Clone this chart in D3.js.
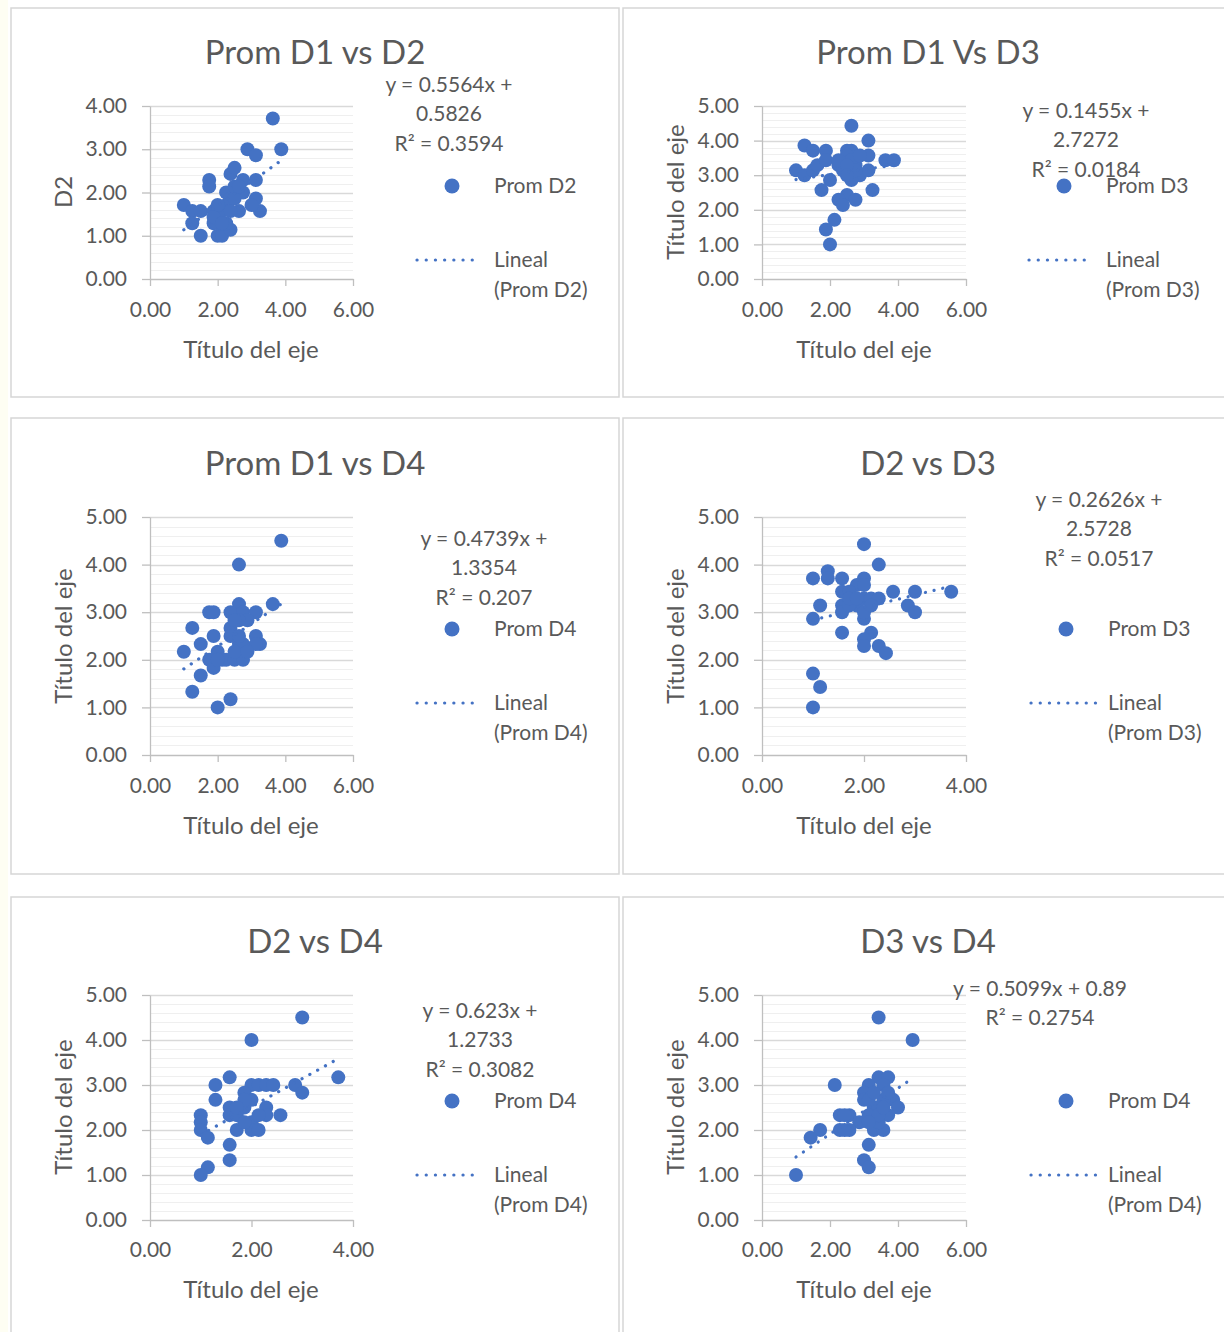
<!DOCTYPE html>
<html>
<head>
<meta charset="utf-8">
<script src="https://cdn.jsdelivr.net/npm/d3@7"></script>
<style>
  body { margin: 0; background: #ffffff; }
  svg { display: block; }
  text { font-family: Lato, "Open Sans", sans-serif; fill: #595959; }
</style>
</head>
<body>
<svg id="chart" width="1224" height="1332"></svg>
<script>
// ---- Data -------------------------------------------------------------
const chartTitles = ["Prom D1 vs D2", "Prom D1 Vs D3", "Prom D1 vs D4", "D2 vs D3", "D2 vs D4", "D3 vs D4"];
const yAxisTitles = ["D2", "Título del eje", "Título del eje", "Título del eje", "Título del eje", "Título del eje"];
const xAxisTitle = "Título del eje";
const seriesNames = ["Prom D2", "Prom D3", "Prom D4", "Prom D3", "Prom D4", "Prom D4"];
const trendNames = ["Lineal", "Lineal", "Lineal", "Lineal", "Lineal", "Lineal"];
const trendSlopes = [0.5564, 0.1455, 0.4739, 0.2626, 0.623, 0.5099];
const trendIntercepts = [0.5826, 2.7272, 1.3354, 2.5728, 1.2733, 0.89];
const rSquared = [0.3594, 0.0184, 0.207, 0.0517, 0.3082, 0.2754];
const xAxisMax = [6, 6, 6, 4, 4, 6];
const yAxisMax = [4, 5, 5, 5, 5, 5];
const xTickStep = 2;
const yTickStep = 1;
const yMinorStep = 0.2;

// Prom D1 (x) vs Prom D2 (y)
const d1VsD2 = [[1.00,1.71],[1.25,1.57],[1.25,1.29],[1.50,1.57],[1.50,1.00],[1.75,2.29],[1.75,2.14],[1.88,1.57],[1.88,1.29],[2.00,1.00],[2.13,1.00],[2.00,1.43],[2.25,1.71],[2.25,2.00],[2.38,1.86],[2.38,1.14],[2.38,2.43],[2.50,2.57],[2.63,2.00],[2.63,1.57],[2.75,2.29],[2.75,2.00],[2.88,3.00],[3.13,2.86],[3.13,2.29],[3.13,1.86],[3.25,1.57],[3.63,3.71],[3.88,3.00],[2.13,1.57],[2.50,1.86],[2.50,2.14],[2.38,1.57],[2.00,1.71],[2.63,2.14],[3.00,1.71],[2.25,1.29],[1.88,1.43],[2.13,1.29]];
// Prom D1 (x) vs Prom D3 (y)
const d1VsD3 = [[2.63,4.43],[3.13,4.00],[1.25,3.86],[1.50,3.71],[1.88,3.71],[2.50,3.71],[2.63,3.71],[3.13,3.57],[3.63,3.43],[3.88,3.43],[1.00,3.14],[1.25,3.00],[1.50,3.14],[1.63,3.29],[1.88,3.43],[2.00,2.86],[1.75,2.57],[2.25,3.29],[2.38,3.43],[2.63,3.14],[2.75,3.29],[2.88,3.00],[3.13,3.14],[2.63,2.86],[3.25,2.57],[2.50,2.43],[2.25,2.29],[2.38,2.14],[2.75,2.29],[2.13,1.71],[1.88,1.43],[2.00,1.00],[2.38,3.14],[2.50,3.57],[2.63,3.43],[2.75,3.14],[2.25,3.43],[2.50,3.29],[2.88,3.57],[2.50,3.00]];
// Prom D1 (x) vs Prom D4 (y)
const d1VsD4 = [[3.88,4.50],[2.63,4.00],[3.63,3.17],[2.63,3.17],[1.75,3.00],[1.88,3.00],[2.38,3.00],[2.75,3.00],[3.13,3.00],[2.88,2.83],[1.25,2.67],[2.38,2.67],[1.88,2.50],[3.13,2.50],[3.25,2.33],[3.13,2.33],[1.50,2.33],[2.63,2.33],[2.75,2.33],[1.00,2.17],[2.00,2.17],[1.75,2.00],[2.13,2.00],[2.25,2.00],[2.50,2.00],[2.75,2.00],[1.88,1.83],[1.50,1.67],[1.25,1.33],[2.38,1.17],[2.00,1.00],[2.50,2.17],[2.38,2.50],[2.63,2.83],[2.50,2.83],[2.63,2.50],[2.00,2.00],[2.88,2.17]];
// Prom D2 (x) vs Prom D3 (y)
const d2VsD3 = [[2.00,4.43],[2.29,4.00],[1.00,3.71],[1.29,3.86],[1.29,3.71],[1.57,3.71],[2.00,3.71],[1.86,3.57],[2.00,3.57],[1.57,3.43],[1.71,3.43],[2.00,3.29],[2.14,3.29],[2.29,3.29],[2.57,3.43],[3.00,3.43],[3.71,3.43],[1.14,3.14],[1.57,3.14],[1.86,3.14],[2.86,3.14],[3.00,3.00],[1.00,2.86],[1.57,3.00],[2.00,2.86],[2.00,3.00],[1.57,2.57],[2.14,2.57],[2.00,2.43],[2.00,2.29],[2.29,2.29],[2.43,2.14],[1.00,1.71],[1.14,1.43],[1.00,1.00],[1.71,3.14],[1.71,3.29],[1.86,3.29],[2.14,3.14]];
// Prom D2 (x) vs Prom D4 (y)
const d2VsD4 = [[3.00,4.50],[2.00,4.00],[3.71,3.17],[1.57,3.17],[1.29,3.00],[2.00,3.00],[2.14,3.00],[2.29,3.00],[2.43,3.00],[2.86,3.00],[3.00,2.83],[1.86,2.83],[1.29,2.67],[2.00,2.67],[1.57,2.50],[1.86,2.50],[2.29,2.50],[1.00,2.33],[1.57,2.33],[1.71,2.33],[2.29,2.33],[2.57,2.33],[1.00,2.17],[2.00,2.17],[1.00,2.00],[1.71,2.00],[2.00,2.00],[2.14,2.00],[1.14,1.83],[1.57,1.67],[1.57,1.33],[1.14,1.17],[1.00,1.00],[1.86,2.67],[1.71,2.50],[2.14,2.33],[1.86,2.17]];
// Prom D3 (x) vs Prom D4 (y)
const d3VsD4 = [[3.43,4.50],[4.43,4.00],[2.14,3.00],[3.43,3.17],[3.71,3.17],[3.14,3.00],[3.57,3.00],[3.00,2.83],[3.00,2.67],[3.86,2.67],[3.57,2.67],[4.00,2.50],[3.29,2.50],[3.43,2.50],[3.71,2.33],[2.29,2.33],[2.57,2.33],[2.86,2.17],[3.14,2.33],[1.71,2.00],[1.43,1.83],[2.29,2.00],[2.57,2.00],[3.29,2.00],[3.57,2.00],[3.14,1.67],[3.00,1.33],[3.14,1.17],[1.00,1.00],[2.43,2.00],[3.43,2.17],[3.14,2.67],[3.29,2.83],[3.71,2.83],[3.43,2.33],[3.57,2.50],[2.43,2.33],[3.14,2.17]];

const panelData = [d1VsD2, d1VsD3, d1VsD4, d2VsD3, d2VsD4, d3VsD4];

// ---- Layout -----------------------------------------------------------
const colGeo = [
  { boxX: 11, boxW: 608, titleX: 315, plotL: 150, plotR: 353, yTitleX: 62, xTitleX: 251 },
  { boxX: 623, boxW: 620, titleX: 928, plotL: 762, plotR: 966, yTitleX: 674, xTitleX: 864 }
];
const rowGeo = [
  { boxY: 8, boxH: 389, titleY: 51, plotT: 106, plotB: 279, xTickY: 310, xTitleY: 348.5, yTitleY: 192, legY: 184.5, legLineY: 258.5 },
  { boxY: 418, boxH: 456, titleY: 462, plotT: 517, plotB: 755, xTickY: 786, xTitleY: 824.5, yTitleY: 636, legY: 627.5, legLineY: 701.5 },
  { boxY: 897, boxH: 460, titleY: 940, plotT: 995, plotB: 1220, xTickY: 1250, xTitleY: 1288.5, yTitleY: 1107, legY: 1099.5, legLineY: 1173.5 }
];
// equation label anchor (centre x, first line y) and legend x positions per panel
const eqPos = [[449, 83.5], [1086, 109.5], [484, 537.5], [1099, 498.5], [480, 1009.5], [1040, 987.5]];
const eqSingleLine = [false, false, false, false, false, true];
const legendX = [
  { marker: 452, text: 494, l1: 417, l2: 481 },
  { marker: 1064, text: 1106, l1: 1029, l2: 1093 },
  { marker: 452, text: 494, l1: 417, l2: 481 },
  { marker: 1066, text: 1108, l1: 1031, l2: 1096 },
  { marker: 452, text: 494, l1: 417, l2: 481 },
  { marker: 1066, text: 1108, l1: 1031, l2: 1096 }
];

const BLUE = "#4472C4";
const fmt2 = d3.format(".2f");
const svg = d3.select("#chart");

svg.append("rect").attr("x", 0).attr("y", 0).attr("width", 1224).attr("height", 1332).attr("fill", "#ffffff");
svg.append("rect").attr("x", 0).attr("y", 0).attr("width", 8).attr("height", 1332).attr("fill", "#fefef3");

panelData.forEach((data, i) => {
  const cg = colGeo[i % 2], rg = rowGeo[Math.floor(i / 2)];
  const g = svg.append("g");

  // panel frame
  g.append("rect")
    .attr("x", cg.boxX).attr("y", rg.boxY)
    .attr("width", cg.boxW).attr("height", rg.boxH)
    .attr("fill", "#ffffff").attr("stroke", "#d6d6d6").attr("stroke-width", 1.5);

  // title
  g.append("text").attr("x", cg.titleX).attr("y", rg.titleY)
    .attr("text-anchor", "middle").attr("dominant-baseline", "central")
    .style("font-size", "33px").text(chartTitles[i]);

  const x = d3.scaleLinear().domain([0, xAxisMax[i]]).range([cg.plotL, cg.plotR]);
  const y = d3.scaleLinear().domain([0, yAxisMax[i]]).range([rg.plotB, rg.plotT]);

  // minor gridlines
  const minor = d3.range(0, yAxisMax[i] + 1e-9, yMinorStep).filter(v => Math.abs(v - Math.round(v)) > 1e-6);
  g.append("g").selectAll("line").data(minor).join("line")
    .attr("x1", cg.plotL).attr("x2", cg.plotR)
    .attr("y1", d => Math.round(y(d)) + 0.5).attr("y2", d => Math.round(y(d)) + 0.5)
    .attr("stroke", "#efefef").attr("stroke-width", 1);

  // major gridlines
  const major = d3.range(yTickStep, yAxisMax[i] + 1e-9, yTickStep);
  g.append("g").selectAll("line").data(major).join("line")
    .attr("x1", cg.plotL).attr("x2", cg.plotR)
    .attr("y1", d => Math.round(y(d)) + 0.5).attr("y2", d => Math.round(y(d)) + 0.5)
    .attr("stroke", "#d9d9d9").attr("stroke-width", 1.3);

  // y axis
  const yAxis = g.append("g").attr("transform", `translate(${cg.plotL},0)`)
    .call(d3.axisLeft(y).tickValues(d3.range(0, yAxisMax[i] + 1e-9, yTickStep))
      .tickFormat(fmt2).tickSize(8).tickSizeOuter(0).tickPadding(15));
  // x axis
  const xAxis = g.append("g").attr("transform", `translate(0,${rg.plotB})`)
    .call(d3.axisBottom(x).tickValues(d3.range(0, xAxisMax[i] + 1e-9, xTickStep))
      .tickFormat(fmt2).tickSize(7).tickSizeOuter(0));
  [yAxis, xAxis].forEach(a => {
    a.select(".domain").attr("stroke", "#bfbfbf").attr("stroke-width", 1.3);
    a.selectAll(".tick line").attr("stroke", "#bfbfbf").attr("stroke-width", 1.3);
    a.selectAll("text").style("font-size", "21px").style("font-family", "Lato, sans-serif").attr("fill", "#595959");
  });
  xAxis.selectAll("text").attr("y", rg.xTickY - rg.plotB).attr("dy", "0.35em");

  // axis titles
  g.append("text").attr("x", cg.xTitleX).attr("y", rg.xTitleY)
    .attr("text-anchor", "middle").attr("dominant-baseline", "central")
    .style("font-size", "24px").text(xAxisTitle);
  g.append("text")
    .attr("transform", `translate(${cg.yTitleX},${rg.yTitleY}) rotate(-90)`)
    .attr("text-anchor", "middle").attr("dominant-baseline", "central")
    .style("font-size", "24px").text(yAxisTitles[i]);

  // linear trendline over the data's x range
  const [x0, x1] = d3.extent(data, d => d[0]);
  const line = d3.line().x(d => x(d)).y(d => y(trendSlopes[i] * d + trendIntercepts[i]));

  // points
  g.append("g").selectAll("circle").data(data).join("circle")
    .attr("cx", d => x(d[0])).attr("cy", d => y(d[1])).attr("r", 7)
    .attr("fill", BLUE);

  g.append("path").datum([x0, x1]).attr("d", line)
    .attr("fill", "none").attr("stroke", BLUE).attr("stroke-width", 3.2)
    .attr("stroke-linecap", "round").attr("stroke-dasharray", "0.1 8.8");

  // equation label
  const [ex, ey] = eqPos[i];
  const eqLines = eqSingleLine[i]
    ? [`y = ${trendSlopes[i]}x + ${trendIntercepts[i]}`, `R² = ${rSquared[i]}`]
    : [`y = ${trendSlopes[i]}x +`, `${trendIntercepts[i]}`, `R² = ${rSquared[i]}`];
  g.append("g").selectAll("text").data(eqLines).join("text")
    .attr("x", ex).attr("y", (d, k) => ey + k * 29.3)
    .attr("text-anchor", "middle").attr("dominant-baseline", "central")
    .style("font-size", "21px").text(d => d);

  // legend
  const lx = legendX[i];
  g.append("circle").attr("cx", lx.marker).attr("cy", rg.legY + 1.5).attr("r", 7.5).attr("fill", BLUE);
  g.append("text").attr("x", lx.text).attr("y", rg.legY).attr("dominant-baseline", "central")
    .style("font-size", "21px").text(seriesNames[i]);
  g.append("line").attr("x1", lx.l1).attr("x2", lx.l2).attr("y1", rg.legLineY + 1.5).attr("y2", rg.legLineY + 1.5)
    .attr("stroke", BLUE).attr("stroke-width", 3.2).attr("stroke-linecap", "round")
    .attr("stroke-dasharray", "0.1 9.1");
  g.append("text").attr("x", lx.text).attr("y", rg.legLineY).attr("dominant-baseline", "central")
    .style("font-size", "21px").text(trendNames[i]);
  g.append("text").attr("x", lx.text).attr("y", rg.legLineY + 29.5).attr("dominant-baseline", "central")
    .style("font-size", "21px").text(`(${seriesNames[i]})`);
});
</script>
</body>
</html>
